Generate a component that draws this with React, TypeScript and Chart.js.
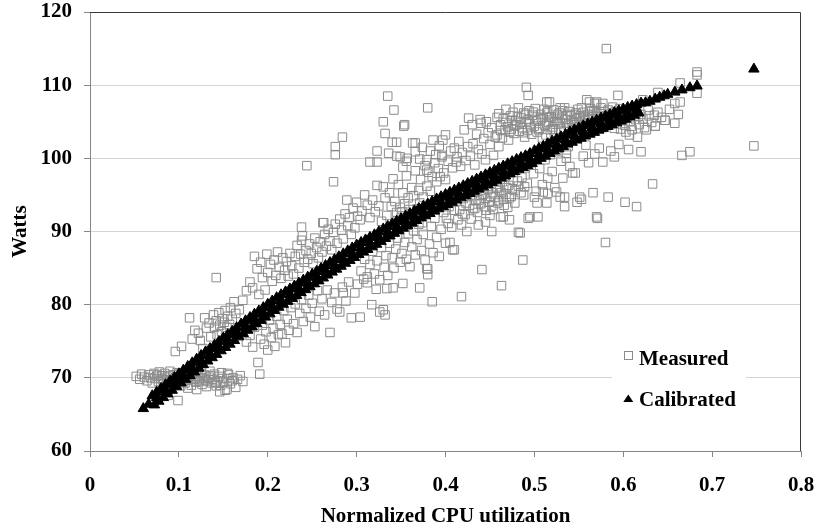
import React, { useEffect, useRef } from 'react';
import { Chart, registerables } from 'chart.js';

Chart.register(...registerables);

const FONT = '"Liberation Serif", "Times New Roman", serif';

const xTickLabels = ['0', '0.1', '0.2', '0.3', '0.4', '0.5', '0.6', '0.7', '0.8'];
const yTickLabels = ['60', '70', '80', '90', '100', '110', '120'];

type Pt = [number, number];

// Measured power samples, grouped by region of the cloud
const measuredIdle: Pt[] = [
  [0.052, 70.2], [0.056, 69.8], [0.058, 70.5], [0.061, 70.1], [0.064, 69.6], [0.066, 70.4], [0.068, 70.0], [0.07, 69.3],
  [0.072, 70.6], [0.073, 69.9], [0.075, 70.2], [0.077, 69.5], [0.078, 70.8], [0.08, 69.9], [0.081, 70.3], [0.083, 69.2],
  [0.084, 70.6], [0.086, 69.7], [0.087, 70.1], [0.089, 69.4], [0.09, 70.9], [0.092, 69.8], [0.093, 70.4], [0.095, 69.1],
  [0.096, 70.0], [0.098, 70.7], [0.099, 69.5], [0.101, 70.2], [0.102, 68.9], [0.104, 69.8], [0.105, 70.5], [0.107, 69.3],
  [0.108, 70.1], [0.11, 68.6], [0.111, 69.7], [0.113, 70.4], [0.114, 69.0], [0.116, 69.9], [0.117, 70.8], [0.119, 69.4],
  [0.12, 68.4], [0.122, 70.2], [0.123, 69.6], [0.125, 70.6], [0.126, 69.1], [0.128, 69.9], [0.129, 70.4], [0.131, 68.8],
  [0.132, 69.5], [0.134, 70.1], [0.135, 70.9], [0.137, 69.3], [0.138, 69.8], [0.14, 70.5], [0.142, 68.9], [0.143, 69.6],
  [0.145, 70.2], [0.147, 69.0], [0.148, 70.7], [0.15, 69.4], [0.152, 68.3], [0.154, 69.9], [0.156, 70.4], [0.158, 69.2],
  [0.161, 70.0], [0.164, 68.7], [0.166, 69.8], [0.169, 70.3], [0.172, 69.5], [0.099, 66.9], [0.088, 67.6], [0.146, 68.1],
  [0.154, 68.4], [0.076, 70.4], [0.082, 69.7], [0.088, 70.3], [0.094, 69.9], [0.1, 70.6], [0.106, 69.6], [0.112, 70.2],
  [0.118, 69.8], [0.124, 70.0], [0.13, 69.7], [0.136, 70.3], [0.141, 69.4], [0.149, 69.9], [0.155, 70.6], [0.16, 69.6],
];

const measuredLowBand: Pt[] = [
  [0.096, 73.6], [0.103, 74.3], [0.112, 78.2], [0.129, 78.2], [0.115, 75.3], [0.124, 75.1], [0.118, 76.5], [0.122, 76.1],
  [0.127, 74.0], [0.131, 76.8], [0.134, 77.5], [0.136, 75.6], [0.139, 78.6], [0.14, 76.9], [0.142, 77.8], [0.143, 75.9],
  [0.145, 78.9], [0.146, 77.2], [0.148, 76.3], [0.149, 78.1], [0.151, 77.6], [0.152, 79.2], [0.154, 76.9], [0.155, 78.4],
  [0.157, 77.3], [0.158, 79.6], [0.16, 78.0], [0.162, 80.4], [0.164, 78.8], [0.168, 79.3],
  [0.173, 76.8], [0.176, 74.9], [0.178, 77.6], [0.18, 75.8], [0.183, 74.2], [0.185, 76.9], [0.187, 78.0], [0.189, 72.1],
  [0.191, 70.5], [0.192, 75.3], [0.194, 77.2], [0.196, 74.6], [0.198, 76.3], [0.2, 73.8], [0.202, 77.9], [0.204, 75.5],
  [0.206, 76.8], [0.208, 74.3], [0.21, 78.4], [0.212, 75.9], [0.214, 77.3], [0.216, 76.0], [0.218, 79.2], [0.22, 74.8],
  [0.222, 78.0], [0.224, 76.5], [0.226, 79.6], [0.229, 77.4], [0.231, 80.1], [0.233, 76.2], [0.236, 78.8], [0.238, 80.7],
  [0.24, 77.7], [0.243, 79.5], [0.246, 81.3], [0.248, 78.3], [0.25, 80.2], [0.253, 77.0], [0.256, 81.9], [0.258, 79.1],
  [0.261, 80.8], [0.264, 78.6], [0.267, 82.0], [0.27, 76.2], [0.272, 80.3], [0.275, 81.6], [0.278, 79.4], [0.281, 79.0],
  [0.284, 82.4], [0.285, 81.6], [0.288, 80.5], [0.291, 83.1], [0.294, 78.2], [0.298, 81.6], [0.301, 82.8], [0.304, 78.3],
  [0.308, 83.5], [0.312, 83.0], [0.317, 80.0], [0.322, 82.1], [0.326, 79.0], [0.33, 79.3], [0.332, 78.6], [0.334, 82.2],
];

const measuredMidBand: Pt[] = [
  [0.172, 80.6], [0.176, 81.9], [0.18, 83.1], [0.183, 82.3], [0.185, 86.6], [0.188, 84.9], [0.19, 81.4], [0.192, 85.8],
  [0.194, 83.7], [0.197, 82.0], [0.199, 86.9], [0.2, 84.4], [0.203, 85.5], [0.205, 83.2], [0.207, 86.1], [0.209, 84.0],
  [0.211, 87.2], [0.213, 85.1], [0.215, 83.6], [0.217, 86.4], [0.219, 84.7], [0.221, 85.9], [0.223, 83.9], [0.225, 87.0],
  [0.227, 85.3], [0.229, 84.2], [0.231, 86.6], [0.233, 88.1], [0.235, 85.0], [0.237, 86.9], [0.238, 88.8], [0.238, 90.6],
  [0.239, 89.4], [0.241, 85.8], [0.243, 87.4], [0.245, 86.2], [0.247, 88.3], [0.249, 87.0], [0.251, 85.6], [0.253, 89.1],
  [0.255, 87.8], [0.257, 86.4], [0.259, 88.6], [0.261, 87.2], [0.262, 91.2], [0.264, 89.6], [0.266, 88.0], [0.268, 90.3],
  [0.27, 88.7], [0.272, 87.5], [0.274, 89.9], [0.276, 91.0], [0.278, 88.4], [0.281, 91.7], [0.283, 90.2], [0.285, 89.0],
  [0.287, 92.4], [0.289, 94.3], [0.29, 90.8], [0.292, 91.9], [0.294, 89.6], [0.296, 93.2], [0.298, 90.5], [0.3, 94.0],
  [0.301, 92.1], [0.304, 91.6],
  [0.305, 84.6], [0.309, 86.2], [0.312, 83.8], [0.315, 85.5], [0.318, 87.3], [0.32, 84.2], [0.323, 86.0], [0.326, 83.4],
  [0.328, 87.8], [0.331, 85.1], [0.333, 86.7], [0.335, 84.0], [0.337, 88.4], [0.34, 86.4], [0.342, 85.0], [0.344, 87.6],
  [0.346, 89.1], [0.349, 85.8], [0.351, 87.0], [0.352, 82.9], [0.354, 88.5], [0.356, 86.2], [0.358, 89.7], [0.36, 85.2],
  [0.362, 87.9], [0.364, 90.1], [0.366, 86.8], [0.368, 88.9], [0.37, 91.0], [0.371, 82.3], [0.373, 87.4], [0.375, 89.6],
  [0.377, 86.1], [0.379, 84.9], [0.38, 84.1], [0.382, 88.3], [0.384, 90.7], [0.385, 80.4], [0.386, 87.1], [0.388, 91.8],
  [0.39, 89.2], [0.393, 86.6], [0.395, 90.3], [0.398, 92.6], [0.4, 88.4], [0.403, 91.1], [0.405, 88.5], [0.408, 87.5],
  [0.41, 92.9],
  [0.306, 92.8], [0.309, 95.0], [0.312, 93.6], [0.315, 91.9], [0.318, 94.3], [0.321, 92.7], [0.323, 96.3], [0.325, 93.5],
  [0.328, 91.4], [0.33, 96.1], [0.332, 94.6], [0.334, 92.2], [0.337, 95.3], [0.339, 93.4], [0.341, 97.2], [0.343, 94.1],
  [0.345, 92.6], [0.347, 96.4], [0.349, 93.3], [0.35, 91.9], [0.352, 95.3], [0.354, 93.8], [0.356, 97.6], [0.358, 94.6],
  [0.36, 92.4], [0.362, 96.0], [0.364, 94.9], [0.366, 98.3], [0.368, 93.1], [0.37, 95.6], [0.372, 97.1], [0.375, 94.7],
  [0.377, 99.0], [0.379, 96.2], [0.381, 98.1], [0.383, 95.5], [0.385, 97.5], [0.388, 99.4], [0.39, 96.8], [0.392, 98.6],
  [0.394, 97.5], [0.396, 100.4], [0.398, 98.0], [0.4, 97.1],
  [0.346, 91.5], [0.351, 92.7], [0.355, 90.9], [0.359, 93.0], [0.363, 91.4], [0.367, 92.2], [0.371, 93.9], [0.374, 91.2],
  [0.378, 92.8],
];

const measuredHighBand: Pt[] = [
  [0.349, 100.2], [0.356, 99.6], [0.363, 102.1], [0.366, 100.9], [0.371, 99.9], [0.374, 101.5], [0.379, 99.8], [0.383, 101.0],
  [0.386, 102.5], [0.389, 100.5], [0.393, 101.7], [0.396, 100.2], [0.397, 102.5], [0.4, 103.2], [0.403, 99.6], [0.406, 101.0],
  [0.408, 98.7], [0.41, 101.4], [0.412, 99.5], [0.413, 100.2], [0.415, 102.3], [0.417, 98.9], [0.419, 100.8], [0.421, 103.9],
  [0.423, 99.7], [0.425, 101.6], [0.426, 105.5], [0.428, 100.3], [0.43, 104.6], [0.431, 102.0], [0.433, 99.1], [0.435, 103.3],
  [0.437, 101.2], [0.439, 105.3], [0.44, 104.8], [0.441, 100.6], [0.443, 102.7], [0.445, 99.8], [0.446, 105.0], [0.448, 103.5],
  [0.45, 101.9], [0.452, 104.2], [0.454, 100.4], [0.456, 102.9], [0.458, 105.6], [0.46, 101.6], [0.462, 103.8],
  [0.401, 91.8], [0.404, 93.4], [0.407, 90.6], [0.41, 92.9], [0.412, 94.1], [0.414, 91.6], [0.416, 93.0], [0.418, 90.9],
  [0.42, 94.5], [0.422, 92.3], [0.424, 90.0], [0.425, 95.2], [0.427, 93.6], [0.429, 91.7], [0.43, 94.9], [0.432, 96.0],
  [0.433, 93.2], [0.435, 95.5], [0.436, 92.6], [0.438, 94.3], [0.439, 96.4], [0.44, 93.8], [0.442, 95.1], [0.443, 97.0],
  [0.445, 94.5], [0.446, 92.9], [0.448, 95.8], [0.449, 94.0], [0.45, 96.6], [0.452, 93.5], [0.453, 95.3], [0.455, 97.2],
  [0.456, 94.7], [0.458, 96.1], [0.459, 93.9], [0.461, 95.6], [0.462, 92.0], [0.464, 96.8], [0.465, 94.4], [0.467, 97.5],
  [0.468, 95.1], [0.47, 93.3], [0.471, 96.3], [0.473, 98.0], [0.474, 94.8], [0.476, 97.0], [0.478, 95.6], [0.48, 98.4],
  [0.482, 96.2], [0.484, 99.3], [0.486, 97.4], [0.488, 95.0], [0.49, 98.7], [0.492, 96.6], [0.495, 92.0], [0.497, 99.4],
  [0.499, 97.9], [0.502, 95.5],
  [0.428, 95.0], [0.431, 93.1], [0.434, 94.2], [0.437, 95.9], [0.44, 94.9], [0.444, 93.4], [0.447, 96.2], [0.451, 94.8],
  [0.454, 93.0], [0.457, 95.9], [0.46, 94.2], [0.463, 95.3], [0.466, 93.6], [0.469, 96.0], [0.472, 94.6], [0.475, 95.8],
  [0.478, 93.9], [0.481, 96.9], [0.485, 95.3], [0.489, 96.1], [0.445, 91.3], [0.437, 90.9], [0.45, 92.2], [0.419, 92.4],
  [0.423, 93.9],
];

const measuredPeakBand: Pt[] = [
  [0.458, 103.2], [0.46, 106.1], [0.462, 104.6], [0.464, 102.8], [0.465, 105.4], [0.467, 103.9], [0.468, 106.7], [0.47, 104.3],
  [0.471, 102.5], [0.473, 105.8], [0.474, 104.0], [0.476, 106.3], [0.477, 103.4], [0.479, 105.1], [0.48, 104.6], [0.482, 106.9],
  [0.483, 103.7], [0.485, 105.5], [0.486, 104.2], [0.488, 106.2], [0.489, 102.9], [0.491, 105.0], [0.492, 103.8], [0.494, 106.5],
  [0.495, 104.7], [0.497, 103.3], [0.498, 105.9], [0.5, 104.4], [0.501, 106.8], [0.503, 103.6], [0.504, 105.3], [0.506, 104.1],
  [0.507, 106.0], [0.509, 102.8], [0.51, 105.6], [0.512, 104.5], [0.513, 103.2], [0.515, 106.4], [0.516, 104.9], [0.518, 103.9],
  [0.519, 105.7], [0.521, 104.3], [0.522, 106.6], [0.524, 103.5], [0.525, 105.2], [0.527, 104.7], [0.528, 106.2], [0.53, 104.0],
  [0.531, 105.5], [0.533, 103.7], [0.534, 106.9], [0.536, 104.8], [0.537, 105.9], [0.539, 104.2], [0.54, 106.4], [0.542, 105.1],
  [0.543, 103.9], [0.545, 106.0], [0.546, 104.6], [0.548, 105.4], [0.549, 106.7], [0.551, 104.4], [0.552, 105.8], [0.554, 104.9],
  [0.555, 106.3], [0.557, 105.2], [0.558, 104.1], [0.56, 106.0], [0.561, 105.4], [0.563, 106.8], [0.564, 104.8], [0.566, 105.9],
  [0.567, 106.5], [0.569, 105.1], [0.57, 106.2], [0.572, 104.6], [0.573, 105.7], [0.575, 106.9], [0.576, 105.3], [0.578, 106.4],
  [0.579, 104.9], [0.581, 105.8], [0.583, 106.6], [0.584, 105.0], [0.586, 106.1], [0.588, 107.0], [0.589, 105.5], [0.591, 106.4],
  [0.593, 104.7], [0.594, 105.9], [0.596, 106.8], [0.598, 105.2], [0.6, 106.3], [0.602, 104.5], [0.604, 105.7], [0.606, 106.6],
  [0.608, 105.0], [0.61, 103.9], [0.612, 106.1], [0.614, 105.3], [0.616, 102.9], [0.618, 104.6], [0.62, 106.0], [0.622, 105.4],
  [0.624, 104.2], [0.626, 103.9], [0.629, 105.8], [0.632, 104.9], [0.636, 104.4], [0.639, 106.3], [0.643, 105.6], [0.647, 105.2],
  [0.652, 106.7], [0.658, 104.8], [0.662, 106.0],
  [0.468, 104.9], [0.472, 103.6], [0.475, 105.2], [0.478, 104.4], [0.481, 105.7], [0.484, 104.9], [0.487, 103.5], [0.49, 106.0],
  [0.493, 105.3], [0.496, 104.2], [0.499, 106.3], [0.502, 105.1], [0.505, 103.9], [0.508, 105.4], [0.511, 106.7], [0.514, 104.7],
  [0.517, 105.6], [0.52, 104.0], [0.523, 105.0], [0.526, 106.0], [0.529, 104.9], [0.532, 106.5], [0.535, 105.3], [0.538, 104.5],
  [0.541, 105.8], [0.544, 104.9], [0.547, 106.2], [0.55, 105.5], [0.553, 106.9], [0.556, 105.6], [0.559, 104.7], [0.562, 106.4],
  [0.565, 105.7], [0.568, 104.5], [0.571, 105.4], [0.574, 106.1], [0.577, 104.2], [0.58, 105.4], [0.585, 104.6], [0.59, 104.1],
  [0.597, 104.0], [0.603, 103.6], [0.609, 104.4], [0.617, 105.7], [0.628, 106.6], [0.635, 105.9],
  [0.504, 92.0], [0.506, 98.6], [0.509, 96.4], [0.51, 95.4], [0.512, 99.8], [0.515, 97.3], [0.518, 100.5], [0.52, 98.2],
  [0.523, 96.0], [0.525, 101.0], [0.529, 94.7], [0.53, 99.6], [0.532, 97.3], [0.534, 93.4], [0.534, 94.7], [0.536, 100.7],
  [0.536, 100.0], [0.538, 101.6], [0.54, 98.9], [0.543, 98.0], [0.546, 98.0], [0.548, 94.0], [0.551, 94.7], [0.553, 94.4],
  [0.555, 100.3], [0.558, 101.8], [0.561, 99.4], [0.566, 95.3], [0.568, 100.6], [0.57, 92.0], [0.573, 101.4], [0.577, 99.5],
  [0.583, 94.7], [0.586, 101.0], [0.59, 100.2], [0.595, 101.9], [0.602, 94.0], [0.606, 101.2], [0.615, 93.4], [0.62, 100.9],
  [0.515, 95.2], [0.525, 95.4], [0.5, 94.7], [0.503, 93.9], [0.514, 93.9],
];

const measuredScattered: Pt[] = [
  [0.581, 115.0], [0.747, 101.7], [0.666, 100.4], [0.675, 100.9], [0.633, 96.5], [0.58, 88.5], [0.571, 91.8], [0.493, 91.8],
  [0.487, 86.1], [0.482, 89.9], [0.484, 89.8], [0.452, 90.0], [0.441, 84.8], [0.463, 82.6], [0.418, 81.1],
  [0.341, 82.3], [0.38, 84.9], [0.41, 87.5], [0.335, 108.5], [0.342, 106.6], [0.33, 105.0], [0.353, 104.4],
  [0.38, 106.9], [0.354, 104.6], [0.284, 102.9], [0.276, 101.6], [0.276, 100.5], [0.244, 99.0], [0.274, 96.8], [0.315, 99.5],
  [0.323, 99.5], [0.263, 91.2], [0.142, 83.7], [0.323, 101.0], [0.336, 100.7], [0.345, 100.3], [0.357, 100.0],
  [0.34, 102.2], [0.345, 102.2], [0.332, 103.4], [0.366, 102.1], [0.352, 98.8], [0.379, 98.4], [0.465, 92.0], [0.472, 91.6],
  [0.491, 109.7], [0.493, 108.6], [0.517, 107.7], [0.529, 106.9], [0.514, 107.7], [0.514, 106.2], [0.559, 108.0], [0.57, 107.7],
  [0.562, 107.7], [0.568, 107.5], [0.577, 107.5], [0.594, 108.6], [0.639, 109.0], [0.658, 107.5], [0.664, 107.7], [0.664, 110.3],
  [0.683, 108.9], [0.683, 111.4], [0.683, 111.8], [0.647, 105.2], [0.636, 104.4], [0.607, 103.2], [0.622, 108.0], [0.615, 107.0],
];

// Model output: the fitted band is read as an upper edge, a centre line and a lower edge
const calibratedUpper: Pt[] = [
  [0.06, 65.8], [0.066, 66.4],
  [0.07, 67.55], [0.075, 68.05], [0.08, 68.55], [0.085, 69.05], [0.09, 69.55], [0.095, 70.05], [0.1, 70.55], [0.105, 71.05],
  [0.11, 71.55], [0.115, 72.05], [0.12, 72.55], [0.125, 73.05], [0.13, 73.55], [0.135, 74.0], [0.14, 74.45], [0.145, 74.95],
  [0.15, 75.45], [0.155, 75.9], [0.16, 76.35], [0.165, 76.85], [0.17, 77.35], [0.175, 77.8], [0.18, 78.25], [0.185, 78.7],
  [0.19, 79.15], [0.195, 79.6], [0.2, 80.05], [0.205, 80.5], [0.21, 80.95], [0.215, 81.35], [0.22, 81.75], [0.225, 82.15],
  [0.23, 82.55], [0.235, 82.95], [0.24, 83.35], [0.245, 83.75], [0.25, 84.15], [0.255, 84.55], [0.26, 84.95], [0.265, 85.35],
  [0.27, 85.75], [0.275, 86.15], [0.28, 86.55], [0.285, 86.95], [0.29, 87.35], [0.295, 87.75], [0.3, 88.15], [0.305, 88.5],
  [0.31, 88.85], [0.315, 89.2], [0.32, 89.55], [0.325, 89.95], [0.33, 90.35], [0.335, 90.7], [0.34, 91.05], [0.345, 91.4],
  [0.35, 91.75], [0.355, 92.1], [0.36, 92.45], [0.365, 92.8], [0.37, 93.15], [0.375, 93.45], [0.38, 93.75], [0.385, 94.1],
  [0.39, 94.45], [0.395, 94.75], [0.4, 95.05], [0.405, 95.35], [0.41, 95.65], [0.415, 95.95], [0.42, 96.25], [0.425, 96.55],
  [0.43, 96.85], [0.435, 97.15], [0.44, 97.45], [0.445, 97.75], [0.45, 98.05], [0.455, 98.35], [0.46, 98.65], [0.465, 98.95],
  [0.47, 99.25], [0.475, 99.55], [0.48, 99.85], [0.485, 100.1], [0.49, 100.35], [0.495, 100.65], [0.5, 101.05], [0.505, 101.35],
  [0.51, 101.65], [0.515, 102.0], [0.52, 102.35], [0.525, 102.65], [0.53, 102.95], [0.535, 103.25], [0.54, 103.6], [0.545, 103.9],
  [0.55, 104.15], [0.555, 104.45], [0.56, 104.7], [0.565, 104.95], [0.57, 105.2], [0.575, 105.5], [0.58, 105.75], [0.585, 106.0],
  [0.59, 106.25], [0.595, 106.5], [0.6, 106.75], [0.605, 106.95], [0.61, 107.15], [0.615, 107.35], [0.62, 107.55],
  [0.625, 107.6], [0.63, 107.8], [0.636, 108.1], [0.641, 108.35], [0.646, 108.55], [0.65, 108.75], [0.658, 109.05], [0.666, 109.35],
  [0.675, 109.65], [0.683, 109.9], [0.747, 112.2],
];

const calibratedMiddle: Pt[] = [
  [0.075, 67.3], [0.085, 68.3], [0.095, 69.3], [0.105, 70.3], [0.115, 71.3], [0.125, 72.3], [0.135, 73.25], [0.145, 74.2],
  [0.155, 75.15], [0.165, 76.1], [0.175, 77.05], [0.185, 77.95], [0.195, 78.85], [0.205, 79.75], [0.215, 80.6], [0.225, 81.4],
  [0.235, 82.2], [0.245, 83.0], [0.255, 83.8], [0.265, 84.6], [0.275, 85.4], [0.285, 86.2], [0.295, 87.0], [0.305, 87.75],
  [0.315, 88.45], [0.325, 89.2], [0.335, 89.95], [0.345, 90.65], [0.355, 91.35], [0.365, 92.05], [0.375, 92.7], [0.385, 93.35],
  [0.395, 94.0], [0.405, 94.6], [0.415, 95.2], [0.425, 95.8], [0.435, 96.4], [0.445, 97.0], [0.455, 97.6], [0.465, 98.2],
  [0.475, 98.8], [0.485, 99.35], [0.495, 99.9], [0.505, 100.6], [0.515, 101.25], [0.525, 101.9], [0.535, 102.5], [0.545, 103.15],
  [0.555, 103.7], [0.565, 104.2], [0.575, 104.75], [0.585, 105.25], [0.595, 105.75], [0.605, 106.25], [0.615, 106.75],
];

const calibratedLower: Pt[] = [
  [0.0725, 66.3], [0.0775, 66.8], [0.0825, 67.3], [0.0875, 67.8], [0.0925, 68.3], [0.0975, 68.8], [0.1025, 69.3], [0.1075, 69.8],
  [0.1125, 70.3], [0.1175, 70.8], [0.1225, 71.3], [0.1275, 71.8], [0.1325, 72.3], [0.1375, 72.75], [0.1425, 73.2], [0.1475, 73.7],
  [0.1525, 74.15], [0.1575, 74.6], [0.1625, 75.1], [0.1675, 75.6], [0.1725, 76.05], [0.1775, 76.5], [0.1825, 76.95], [0.1875, 77.4],
  [0.1925, 77.85], [0.1975, 78.3], [0.2025, 78.75], [0.2075, 79.2], [0.2125, 79.65], [0.2175, 80.05], [0.2225, 80.45], [0.2275, 80.85],
  [0.2325, 81.25], [0.2375, 81.65], [0.2425, 82.05], [0.2475, 82.45], [0.2525, 82.85], [0.2575, 83.25], [0.2625, 83.65], [0.2675, 84.05],
  [0.2725, 84.45], [0.2775, 84.85], [0.2825, 85.25], [0.2875, 85.65], [0.2925, 86.05], [0.2975, 86.45], [0.3025, 86.85], [0.3075, 87.2],
  [0.3125, 87.55], [0.3175, 87.9], [0.3225, 88.25], [0.3275, 88.65], [0.3325, 89.05], [0.3375, 89.4], [0.3425, 89.75], [0.3475, 90.1],
  [0.3525, 90.45], [0.3575, 90.8], [0.3625, 91.15], [0.3675, 91.5], [0.3725, 91.85], [0.3775, 92.15], [0.3825, 92.45], [0.3875, 92.8],
  [0.3925, 93.1], [0.3975, 93.4], [0.4025, 93.7], [0.4075, 94.0], [0.4125, 94.3], [0.4175, 94.6], [0.4225, 94.9], [0.4275, 95.2],
  [0.4325, 95.5], [0.4375, 95.8], [0.4425, 96.1], [0.4475, 96.4], [0.4525, 96.7], [0.4575, 97.0], [0.4625, 97.3], [0.4675, 97.6],
  [0.4725, 97.9], [0.4775, 98.2], [0.4825, 98.5], [0.4875, 98.75], [0.4925, 99.0], [0.4975, 99.3], [0.5025, 99.7], [0.5075, 100.0],
  [0.5125, 100.3], [0.5175, 100.65], [0.5225, 101.0], [0.5275, 101.3], [0.5325, 101.6], [0.5375, 101.95], [0.5425, 102.2], [0.5475, 102.5],
  [0.5525, 102.75], [0.5575, 103.05], [0.5625, 103.3], [0.5675, 103.55], [0.5725, 103.85], [0.5775, 104.1], [0.5825, 104.35], [0.5875, 104.6],
  [0.5925, 104.85], [0.5975, 105.1], [0.6025, 105.35], [0.6075, 105.65], [0.6125, 105.9], [0.6175, 106.2],
];

const measured: Pt[] = [
  ...measuredIdle,
  ...measuredLowBand,
  ...measuredMidBand,
  ...measuredHighBand,
  ...measuredPeakBand,
  ...measuredScattered,
];
const calibrated: Pt[] = [...calibratedUpper, ...calibratedMiddle, ...calibratedLower];

const toXY = (rows: Pt[]) => rows.map(([x, y]) => ({ x, y }));

const GRID = '#d4d4d4';
const AXIS = '#868686';
const SQUARE = '#8c8c8c';

// Frame lines on the open sides of the plot, plus the legend inside it
const framePlugin = {
  id: 'frameAndLegend',
  afterDatasetsDraw(chart: any) {
    const { ctx, chartArea: a } = chart;
    ctx.save();
    ctx.strokeStyle = '#3a3a3a';
    ctx.lineWidth = 1;
    ctx.beginPath();
    ctx.moveTo(a.left, Math.round(a.top) + 0.5);
    ctx.lineTo(Math.round(a.right) - 0.5, Math.round(a.top) + 0.5);
    ctx.lineTo(Math.round(a.right) - 0.5, a.bottom);
    ctx.stroke();

    const bx = a.right - 189;
    const by = a.bottom - 113;
    ctx.fillStyle = '#ffffff';
    ctx.fillRect(bx, by, 134, 82);

    // Measured key
    ctx.strokeStyle = SQUARE;
    ctx.strokeRect(Math.round(a.right - 177) + 0.5, Math.round(a.bottom - 100) + 0.5, 8, 8);
    // Calibrated key
    ctx.fillStyle = '#000';
    ctx.beginPath();
    ctx.moveTo(a.right - 172.7, a.bottom - 56.5);
    ctx.lineTo(a.right - 167.7, a.bottom - 49);
    ctx.lineTo(a.right - 177.7, a.bottom - 49);
    ctx.closePath();
    ctx.fill();

    ctx.font = `bold 21px ${FONT}`;
    ctx.textAlign = 'left';
    ctx.textBaseline = 'alphabetic';
    ctx.fillStyle = '#000';
    ctx.fillText('Measured', a.right - 162, a.bottom - 86);
    ctx.fillText('Calibrated', a.right - 162, a.bottom - 45);
    ctx.restore();
  },
};

export default function App() {
  const canvasRef = useRef<HTMLCanvasElement | null>(null);

  useEffect(() => {
    const canvas = canvasRef.current;
    if (!canvas) return;
    const tickFont = { family: FONT, size: 21, weight: 'bold' as const };

    const chart = new Chart(canvas, {
      type: 'scatter',
      data: {
        datasets: [
          {
            label: 'Measured',
            data: toXY(measured),
            pointStyle: 'rect',
            pointRadius: 6,
            borderWidth: 1,
            borderColor: SQUARE,
            backgroundColor: 'rgba(0,0,0,0)',
            order: 2,
          },
          {
            label: 'Calibrated',
            data: toXY(calibrated),
            pointStyle: 'triangle',
            pointRadius: 6,
            borderWidth: 1,
            borderColor: '#000',
            backgroundColor: '#000',
            order: 1,
          },
        ],
      },
      options: {
        animation: false,
        responsive: false,
        devicePixelRatio: 1,
        events: [],
        layout: { padding: { top: 12, right: 16, bottom: 0, left: 0 } },
        plugins: {
          legend: { display: false },
          tooltip: { enabled: false },
        },
        scales: {
          x: {
            type: 'linear',
            min: 0,
            max: 0.8,
            afterFit: (s: any) => {
              s.height = 78;
              s.paddingLeft = 0;
              s.paddingRight = 0;
            },
            ticks: {
              stepSize: 0.1,
              maxRotation: 0,
              autoSkip: false,
              padding: 16,
              color: '#000',
              font: tickFont,
              callback: (_v: any, i: number) => xTickLabels[i],
            },
            grid: { drawOnChartArea: false, drawTicks: true, tickLength: 6, tickColor: AXIS },
            border: { display: true, color: AXIS, width: 1 },
            title: {
              display: true,
              text: 'Normalized CPU utilization',
              color: '#000',
              font: { family: FONT, size: 21, weight: 'bold' },
              padding: { top: 4, bottom: 0 },
            },
          },
          y: {
            type: 'linear',
            min: 60,
            max: 120,
            afterFit: (s: any) => {
              s.width = 90;
              s.paddingTop = 0;
              s.paddingBottom = 0;
            },
            ticks: {
              stepSize: 10,
              autoSkip: false,
              padding: 12,
              color: '#000',
              font: tickFont,
              callback: (_v: any, i: number) => yTickLabels[i],
            },
            grid: {
              drawTicks: true,
              tickLength: 6,
              tickColor: AXIS,
              color: (c: any) => (c.tick && (c.tick.value === 60 || c.tick.value === 120) ? 'rgba(0,0,0,0)' : GRID),
            },
            border: { display: true, color: AXIS, width: 1 },
            title: {
              display: true,
              text: 'Watts',
              color: '#000',
              font: { family: FONT, size: 21, weight: 'bold' },
              padding: { top: 8, bottom: 0 },
            },
          },
        },
      },
      plugins: [framePlugin],
    });

    return () => chart.destroy();
  }, []);

  return (
    <div style={{ position: 'fixed', left: 0, top: 0, width: 817, height: 529, background: '#fff' }}>
      <canvas ref={canvasRef} width={817} height={529} style={{ display: 'block', width: 817, height: 529 }} />
    </div>
  );
}
